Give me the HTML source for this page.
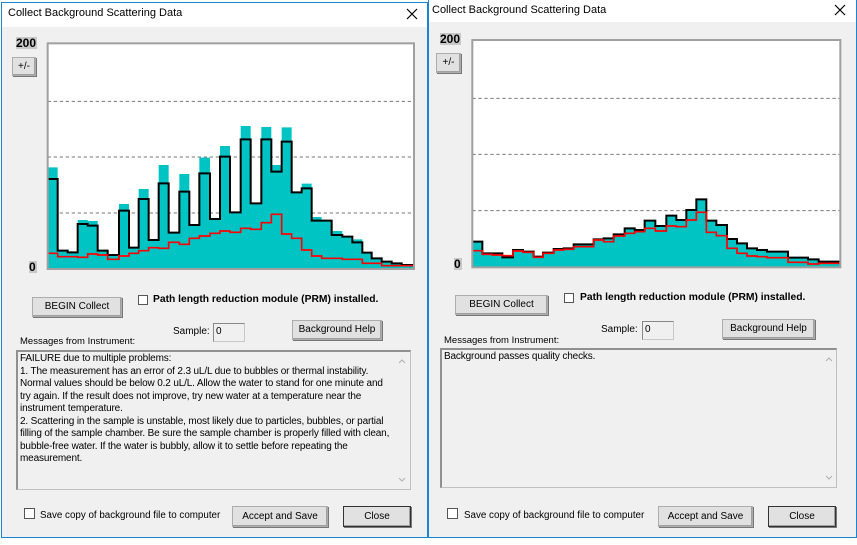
<!DOCTYPE html>
<html><head><meta charset="utf-8"><style>
body{margin:0;width:857px;height:545px;background:#fff;position:relative;overflow:hidden;font-family:"Liberation Sans",sans-serif;font-size:10px;color:#000}
.a{position:absolute;white-space:nowrap}
.dlg{position:absolute;background:#f0f0f0;border:1px solid #1883d7;box-sizing:border-box}
.tb{position:absolute;left:0;right:0;top:0;background:#fff}
.btn{position:absolute;background:#e1e1e1;border:1px solid #adadad;box-sizing:border-box;text-align:center;box-shadow:inset -1px -1px 0 #a0a0a0,1px 1px 0 #777}
.cb{position:absolute;width:10px;height:10px;background:#fff;border:1px solid #555;box-sizing:border-box}
.inp{position:absolute;background:#f0f0f0;border:1px solid #c8c8c8;border-top-color:#888;border-left-color:#888;box-sizing:border-box;padding-left:2px}
.ta{position:absolute;background:#f0f0f0;border:1px solid #c0c0c0;border-top:2px solid #909090;border-left:2px solid #909090;box-sizing:border-box;padding:1px 2px;line-height:12.5px;white-space:normal;font-size:10px;letter-spacing:-0.15px}
.lab{position:absolute;background:#c8c8c8;font-weight:bold;font-size:12px;line-height:12px}
.x{position:absolute}
</style></head><body>

<div class="dlg" style="left:1px;top:2px;width:427px;height:536px">
<div class="tb" style="height:24px"></div>
</div>
<div class="a" style="left:8px;top:7px;font-size:11px">Collect Background Scattering Data</div>
<svg class="x" style="left:406px;top:8px" width="12" height="12"><path d="M1 1L11 11M11 1L1 11" stroke="#000" stroke-width="1.2"/></svg>

<div class="dlg" style="left:428px;top:-1px;width:429px;height:539px">
<div class="tb" style="height:22px"></div>
</div>
<div class="a" style="left:432px;top:4px;font-size:11px">Collect Background Scattering Data</div>
<svg class="x" style="left:834px;top:4px" width="12" height="12"><path d="M1 1L11 11M11 1L1 11" stroke="#000" stroke-width="1.2"/></svg>

<svg class="a" style="left:0;top:0" width="430" height="280" viewBox="0 0 1290 840">
<rect x="143" y="130" width="1099" height="677" fill="#fff"/>
<g stroke="#777" stroke-width="3" stroke-dasharray="10,8"><line x1="143" x2="1242" y1="304" y2="304"/><line x1="143" x2="1242" y1="471" y2="471"/><line x1="143" x2="1242" y1="639" y2="639"/></g>
<path fill="#00c4c4" d="M143 807V502H173V750H203V755H233V660H263V663H293V752H323V765H357V612H387V743H416V567H446V720H476V495H506V698H538V522H568V675H598V473H630V657H660V438H690V637H722V378H752V610H784V381H814V495H845V382H875V577H905V551H935V651H965V662H995V693H1027V710H1057V718H1087V758H1115V775H1145V785H1175V790H1205V795H1242V807Z"/>
<path fill="none" stroke="#000" stroke-width="6" d="M143 537H173V752H203V757H233V672H263V677H293V752H323V765H357V632H387V743H416V597H446V720H476V550H506V698H538V575H568V675H598V520H630V657H660V470H690V637H722V418H752V610H784V418H814V515H845V425H875V577H905V565H935V662H965V662H995V705H1027V710H1057V727H1087V758H1115V775H1145V785H1175V790H1205V795H1242"/>
<path fill="none" stroke="#f00" stroke-width="5" d="M143 760H173V770H233V772H263V762H293V765H323V778H357V768H387V760H416V752H446V743H476V745H506V727H538V733H568V715H598V708H630V700H660V693H690V697H722V685H752V688H784V668H814V643H845V702H875V715H905V750H935V768H965V775H1027V778H1087V790H1145V797H1242"/>
<rect x="143" y="130" width="1099" height="677" fill="none" stroke="#a0a0a0" stroke-width="6"/>
</svg>

<svg class="a" style="left:428px;top:0" width="429" height="280" viewBox="0 0 1287 840">
<rect x="133" y="120" width="1104" height="682" fill="#fff"/>
<g stroke="#777" stroke-width="3" stroke-dasharray="10,8"><line x1="133" x2="1237" y1="295" y2="295"/><line x1="133" x2="1237" y1="463" y2="463"/><line x1="133" x2="1237" y1="632" y2="632"/></g>
<path fill="#00c4c4" d="M133 802V725H163V760H223V772H255V750H285V755H317V770H345V758H377V747H407V745H437V733H497V718H527V715H557V703H590V685H620V690H650V662H682V678H715V647H745V660H775V630H805V598H835V662H865V675H897V717H927V730H957V745H987V750H1017V755H1080V773H1140V778H1172V785H1237V802Z"/>
<path fill="none" stroke="#000" stroke-width="6" d="M133 725H163V760H223V772H255V750H285V755H317V770H345V758H377V747H407V745H437V733H497V718H527V715H557V703H590V685H620V690H650V662H682V678H715V647H745V660H775V630H805V598H835V662H865V675H897V717H927V730H957V745H987V750H1017V755H1080V773H1140V778H1172V785H1237"/>
<path fill="none" stroke="#f00" stroke-width="5" d="M133 752H163V763H193V765H223V767H255V753H285V757H317V772H345V760H377V750H407V748H437V740H497V720H527V725H557V708H590V700H620V695H650V685H682V693H715V678H745V680H775V660H805V637H835V697H865V707H897V745H927V760H957V768H987V770H1017V773H1080V787H1140V792H1172V790H1237"/>
<rect x="133" y="120" width="1104" height="682" fill="none" stroke="#a0a0a0" stroke-width="6"/>
</svg>

<!-- left controls -->
<div class="lab" style="left:16px;top:37px;width:21px;height:12px">200</div>
<div class="btn" style="left:12px;top:57px;width:24px;height:19px;line-height:17px">+/-</div>
<div class="lab" style="left:29px;top:261px;width:8px;height:12px">0</div>
<div class="btn" style="left:32px;top:297px;width:90px;height:20px;line-height:18px">BEGIN Collect</div>
<div class="cb" style="left:138px;top:295px"></div>
<div class="a" style="left:153px;top:294px;font-weight:bold;font-size:10.3px">Path length reduction module (PRM) installed.</div>
<div class="a" style="left:173px;top:326px">Sample:</div>
<div class="inp" style="left:213px;top:323px;width:32px;height:19px;line-height:16px">0</div>
<div class="btn" style="left:292px;top:320px;width:90px;height:20px;line-height:18px">Background Help</div>
<div class="a" style="left:20px;top:336px;font-size:9.5px">Messages from Instrument:</div>
<div class="ta" style="left:16px;top:350px;width:395px;height:140px;padding-right:20px">FAILURE due to multiple problems:<br>1. The measurement has an error of 2.3 uL/L due to bubbles or thermal instability. Normal values should be below 0.2 uL/L. Allow the water to stand for one minute and try again. If the result does not improve, try new water at a temperature near the instrument temperature.<br>2. Scattering in the sample is unstable, most likely due to particles, bubbles, or partial filling of the sample chamber. Be sure the sample chamber is properly filled with clean, bubble-free water. If the water is bubbly, allow it to settle before repeating the measurement.</div>
<svg class="x" style="left:398px;top:358px" width="8" height="126"><path d="M1 5L4 2L7 5M1 120L4 123L7 120" fill="none" stroke="#b0b0b0"/></svg>
<div class="cb" style="left:24px;top:508px;width:11px;height:11px"></div>
<div class="a" style="left:40px;top:510px;font-size:9.8px">Save copy of background file to computer</div>
<div class="btn" style="left:232px;top:506px;width:96px;height:21px;line-height:19px">Accept and Save</div>
<div class="btn" style="left:343px;top:506px;width:68px;height:21px;line-height:19px;border:1px solid #333">Close</div>

<!-- right controls -->
<div class="lab" style="left:440px;top:33px;width:21px;height:12px">200</div>
<div class="btn" style="left:436px;top:53px;width:25px;height:20px;line-height:18px">+/-</div>
<div class="lab" style="left:454px;top:258px;width:8px;height:12px">0</div>
<div class="btn" style="left:455px;top:295px;width:93px;height:20px;line-height:18px">BEGIN Collect</div>
<div class="cb" style="left:564px;top:293px"></div>
<div class="a" style="left:580px;top:292px;font-weight:bold;font-size:10.3px">Path length reduction module (PRM) installed.</div>
<div class="a" style="left:601px;top:324px">Sample:</div>
<div class="inp" style="left:642px;top:321px;width:32px;height:19px;line-height:16px">0</div>
<div class="btn" style="left:722px;top:319px;width:93px;height:20px;line-height:18px">Background Help</div>
<div class="a" style="left:444px;top:335px;font-size:9.5px">Messages from Instrument:</div>
<div class="ta" style="left:440px;top:348px;width:397px;height:140px">Background passes quality checks.</div>
<svg class="x" style="left:825px;top:356px" width="8" height="126"><path d="M1 5L4 2L7 5M1 120L4 123L7 120" fill="none" stroke="#b0b0b0"/></svg>
<div class="cb" style="left:447px;top:508px;width:11px;height:11px"></div>
<div class="a" style="left:464px;top:510px;font-size:9.8px">Save copy of background file to computer</div>
<div class="btn" style="left:658px;top:506px;width:95px;height:21px;line-height:19px">Accept and Save</div>
<div class="btn" style="left:768px;top:506px;width:68px;height:21px;line-height:19px;border:1px solid #333">Close</div>
</body></html>
